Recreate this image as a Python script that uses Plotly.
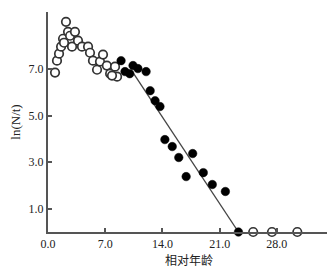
import plotly.graph_objects as go

# open-circle data (early ages and tail)
open_x = [0.86, 1.1, 1.35, 1.6, 1.84, 2.2, 2.45, 1.96, 2.7, 2.94, 3.3, 3.67, 4.16, 4.9, 5.14,
          5.5, 6.0, 6.36, 6.73, 7.2, 7.6, 8.2, 8.45, 7.83, 25.1, 27.4, 30.5]
open_y = [6.85, 7.36, 7.66, 7.96, 8.30, 9.03, 8.60, 8.13, 8.43, 7.96, 8.60, 8.22, 7.96, 7.96, 7.70,
          7.36, 6.97, 7.32, 7.62, 7.15, 6.80, 7.10, 6.67, 6.72, 0.0, 0.0, 0.0]

# filled-circle data (used in regression)
fill_x = [8.94, 9.42, 10.0, 10.4, 11.0, 12.0, 12.5, 13.1, 13.7, 14.3, 15.2, 16.0, 17.7, 16.9,
          19.0, 20.1, 21.7, 23.3]
fill_y = [7.36, 6.89, 6.80, 7.15, 7.02, 6.89, 6.07, 5.64, 5.39, 3.97, 3.67, 3.20, 3.37, 2.38,
          2.55, 2.04, 1.74, 0.0]

# regression line
fit_x = [10.4, 23.3]
fit_y = [6.85, 0.0]

x_ticks = [0, 7, 14, 21, 28]
x_tick_labels = ["0.0", "7.0", "14.0", "21.0", "28.0"]
y_ticks = [1, 3, 5, 7]
y_tick_labels = ["1.0", "3.0", "5.0", "7.0"]

fig = go.Figure()
fig.add_trace(go.Scatter(x=open_x, y=open_y, mode="markers", cliponaxis=False,
                         marker=dict(symbol="circle", size=8.5, color="white",
                                     line=dict(color="#333333", width=1.7))))
fig.add_trace(go.Scatter(x=fit_x, y=fit_y, mode="lines", cliponaxis=False,
                         line=dict(color="#444444", width=1.3)))
fig.add_trace(go.Scatter(x=fill_x, y=fill_y, mode="markers", cliponaxis=False,
                         marker=dict(symbol="circle", size=8.5, color="black",
                                     line=dict(color="black", width=0.5))))

axis_font = dict(family="Liberation Serif", size=12, color="#222222")
fig.update_layout(
    width=335, height=269,
    margin=dict(l=40, r=13, t=4, b=45),
    paper_bgcolor="white", plot_bgcolor="white",
    showlegend=False,
    xaxis=dict(range=[0, 34.5], showgrid=False, zeroline=False,
               showline=True, linecolor="#555555", linewidth=2,
               ticks="inside", ticklen=4, tickwidth=1.5, tickcolor="#555555",
               tickvals=x_ticks, ticktext=x_tick_labels, tickfont=axis_font,
               title=dict(text="相对年龄", font=dict(family="Noto Sans CJK SC", size=12, color="#222222"),
                          standoff=6)),
    yaxis=dict(range=[0, 9.45], showgrid=False, zeroline=False,
               showline=True, linecolor="#555555", linewidth=2,
               ticks="inside", ticklen=4, tickwidth=1.5, tickcolor="#555555",
               tickvals=y_ticks, ticktext=y_tick_labels, tickfont=axis_font,
               title=dict(text="ln(N/t)", font=dict(family="Liberation Serif", size=13, color="#222222"),
                          standoff=6)),
)
fig.write_html("out.html")
